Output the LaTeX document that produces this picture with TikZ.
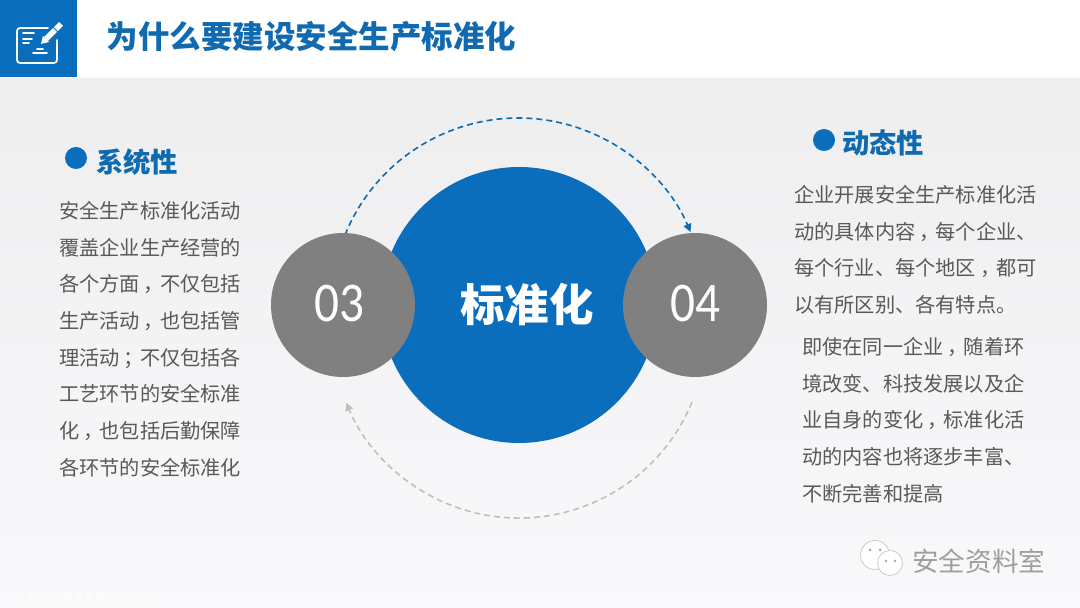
\documentclass[tikz,border=0pt]{standalone}
\usepackage{fontspec}
\setmainfont{Noto Sans CJK SC}
\newfontfamily\numfont[FakeStretch=0.88]{Carlito}
\usetikzlibrary{arrows.meta}
\definecolor{brandblue}{HTML}{0A6EBD}
\definecolor{titleblue}{HTML}{0F6AB0}
\definecolor{discgray}{HTML}{808080}
\definecolor{bodygray}{HTML}{595959}
\definecolor{bgtop}{HTML}{EEEEEF}
\definecolor{bgbot}{HTML}{F9F8FB}
\newcommand\cjkpunct[1]{\kern4pt#1\kern-4pt}
\tikzset{
  x=1pt,y=1pt,
  disc/.style={circle,draw=none,fill=discgray,minimum size=144pt,inner sep=0pt},
  disclabel/.style={text=white,inner sep=0pt,font=\numfont\fontsize{56}{56}\selectfont},
  hub/.style={circle,draw=none,fill=brandblue,minimum size=276pt,inner sep=0pt},
  hublabel/.style={inner sep=0pt,text=white,font=\bfseries\fontsize{44.5}{50}\selectfont},
  bodytext/.style={anchor=north west,inner sep=0pt,align=left,text=bodygray,font=\fontsize{20.2}{36.7}\selectfont},
  heading/.style={anchor=west,inner sep=0pt,text=titleblue,font=\bfseries\fontsize{27.3}{30}\selectfont},
  bullet/.style={circle,fill=brandblue,draw=none,minimum size=22pt,inner sep=0pt},
  bluearc/.style={draw=titleblue,line width=1.6pt,dash pattern=on 6pt off 4pt,-{Triangle[length=8pt,width=8pt]}},
  grayarc/.style={draw=black!25,line width=1.6pt,dash pattern=on 6pt off 4pt,-{Triangle[length=8pt,width=8pt]}},
  iconline/.style={draw=white,line width=1.7pt,line cap=round,line join=round},
  bubble/.style={draw=black!22,fill=white,line width=.7pt},
}
\begin{document}
\begin{tikzpicture}
\useasboundingbox (0,0) rectangle (1080,608);
% background
\shade[top color=bgtop,bottom color=bgbot] (0,0) rectangle (1080,530);
\fill[white] (0,530) rectangle (1080,608);
\draw[white,line width=9pt,dash pattern=on 9pt off 2pt,opacity=.45] (30,11) -- (152,11);
% title band icon
\fill[brandblue] (0,531) rectangle (77,608);
\draw[iconline] (48,580) -- (20,580) to[out=180,in=90] (17,577) -- (17,548) to[out=-90,in=180] (20,545) -- (54,545) to[out=0,in=-90] (57,548) -- (57,568);
\draw[iconline] (23,575) -- (34,575) (23,569) -- (32,569) (23,565) -- (29,565) (37,559) -- (43,559) (33,555) -- (47,555);
\draw[white,line width=5.5pt] (46,569) -- (61,584);
\fill[white] (41,564) -- (43,572) -- (49,566) -- cycle;
\draw[brandblue,line width=1pt] (53,581) -- (58,576);
\node[anchor=west,inner sep=0pt,text=titleblue,font=\bfseries\fontsize{31.5}{34}\selectfont] (title) at (106.5,571) {为什么要建设安全生产标准化};
% arcs
\coordinate (arcA) at (345,373);
\coordinate (arcB) at (692,206);
\draw[bluearc] (arcA) arc[start angle=158,end angle=23,radius=187pt];
\draw[grayarc] (arcB) arc[start angle=-22.3,end angle=-157.5,radius=187pt];
% discs
\node[hub] (hub) at (519,303) {};
\node[hublabel] (hubtext) at (527,303) {标准化};
\node[disc] (d3) at (343,303) {};
\node[disc] (d4) at (695,303) {};
\node[disclabel] (n3) at (339,304) {03};
\node[disclabel] (n4) at (695,304) {04};
% left
\node[bullet] (b1) at (76,450) {};
\node[heading] (h1) at (96,446) {系统性};
\node[bodytext] (t1) at (59,407) {安全生产标准化活动\\覆盖企业生产经营的\\各个方面\cjkpunct{，}不仅包括\\生产活动\cjkpunct{，}也包括管\\理活动\cjkpunct{；}不仅包括各\\工艺环节的安全标准\\化\cjkpunct{，}也包括后勤保障\\各环节的安全标准化};
% right
\node[bullet] (b2) at (824,468) {};
\node[heading] (h2) at (842,465) {动态性};
\node[bodytext] (t2) at (794,423) {企业开展安全生产标准化活\\动的具体内容\cjkpunct{，}每个企业、\\每个行业、每个地区\cjkpunct{，}都可\\以有所区别、各有特点。};
\node[bodytext] (t3) at (802,271) {即使在同一企业\cjkpunct{，}随着环\\境改变、科技发展以及企\\业自身的变化\cjkpunct{，}标准化活\\动的内容也将逐步丰富、\\不断完善和提高};
% watermark
\draw[bubble] (875,53) circle[radius=14.5pt];
\draw[bubble] (890,45) circle[radius=12.5pt];
\fill[black!35] (870,58) circle[radius=1.5pt] (880,58) circle[radius=1.5pt] (886,47) circle[radius=1.4pt] (895,47) circle[radius=1.4pt];
\node[anchor=west,inner sep=0pt,text=black!38,font=\fontsize{26.6}{30}\selectfont] (wm) at (912,47) {安全资料室};
\end{tikzpicture}
\end{document}
